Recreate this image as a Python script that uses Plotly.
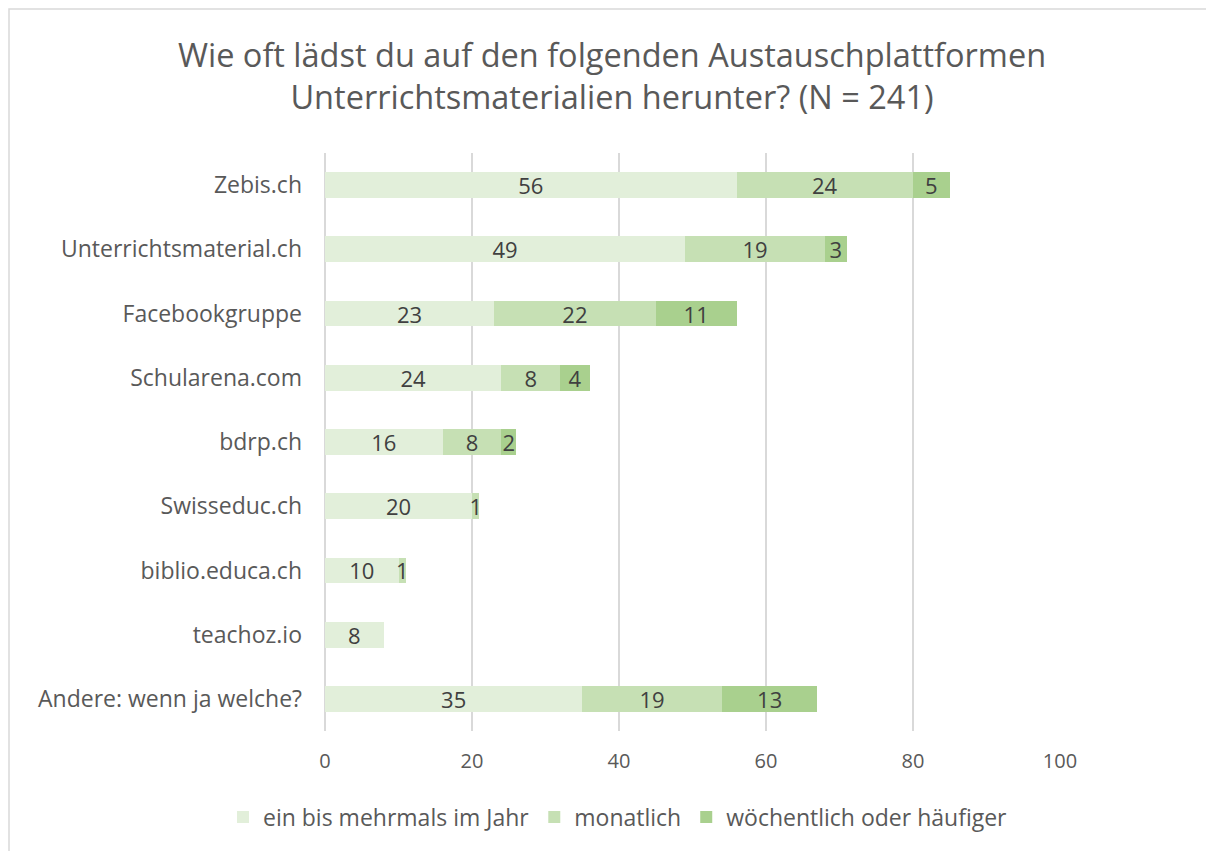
import plotly.graph_objects as go

categories = ["Zebis.ch", "Unterrichtsmaterial.ch", "Facebookgruppe", "Schularena.com",
              "bdrp.ch", "Swisseduc.ch", "biblio.educa.ch", "teachoz.io", "Andere: wenn ja welche?"]
series_names = ["ein bis mehrmals im Jahr", "monatlich", "wöchentlich oder häufiger"]
yearly = [56, 49, 23, 24, 16, 20, 10, 8, 35]
monthly = [24, 19, 22, 8, 8, 1, 1, 0, 19]
weekly = [5, 3, 11, 4, 2, 0, 0, 0, 13]
colors = ["#E2EFDA", "#C6E0B4", "#A9D08E"]
x_ticks = [0, 20, 40, 60, 80, 100]

FONT = "Open Sans"
fig = go.Figure()
for name, vals, col in zip(series_names, [yearly, monthly, weekly], colors):
    fig.add_trace(go.Bar(
        y=categories, x=vals, name=name, orientation="h",
        marker=dict(color=col, line=dict(width=0)),
        text=[str(v) if v else "" for v in vals],
        textposition="inside", insidetextanchor="middle", textangle=0,
        constraintext="none", cliponaxis=False,
        textfont=dict(family=FONT, size=22, color="#404040"),
        hoverinfo="x+y+name",
    ))

# page body has an 8px margin, so the figure starts at (8, 8)
W, H = 1206, 843
L, R, T, B = 317, 154, 145, 120
pw, ph = W - L - R, H - T - B

fig.update_layout(
    width=W, height=H, barmode="stack", bargap=0.6,
    paper_bgcolor="white", plot_bgcolor="white",
    margin=dict(l=L, r=R, t=T, b=B),
    font=dict(family=FONT, color="#595959"),
    title=dict(text="Wie oft lädst du auf den folgenden Austauschplattformen<br>Unterrichtsmaterialien herunter? (N = 241)",
               x=(612 - 8) / W, xref="container", xanchor="center", y=1 - (67 - 8) / H, yanchor="middle",
               yref="container", font=dict(family=FONT, size=32.5, color="#595959")),
    xaxis=dict(range=[0, 100], tickvals=x_ticks, showgrid=True, gridcolor="#D9D9D9", gridwidth=1.5,
               zeroline=True, zerolinecolor="#D9D9D9", zerolinewidth=1.5, showline=False,
               tickfont=dict(family=FONT, size=20, color="#595959"), ticks="", ticklabelstandoff=16,
               fixedrange=True),
    yaxis=dict(autorange="reversed", showgrid=False, showline=False, ticks="",
               tickfont=dict(family=FONT, size=23, color="#595959"), ticklabelstandoff=22,
               fixedrange=True),
    legend=dict(orientation="h", x=(215 - L) / pw, xanchor="left", xref="paper",
                y=(H - B - 809) / ph, yanchor="middle", yref="paper",
                font=dict(family=FONT, size=23, color="#595959"),
                traceorder="normal", itemwidth=30),
    showlegend=True,
)
fig.add_shape(type="rect", xref="paper", yref="paper",
              x0=(1 - L) / pw, x1=(W + 10 - L) / pw, y0=(H - B - (H + 10)) / ph, y1=(H - B - 1) / ph,
              line=dict(color="#D9D9D9", width=1.5), fillcolor="rgba(0,0,0,0)", layer="below")
fig.write_html("out.html")
